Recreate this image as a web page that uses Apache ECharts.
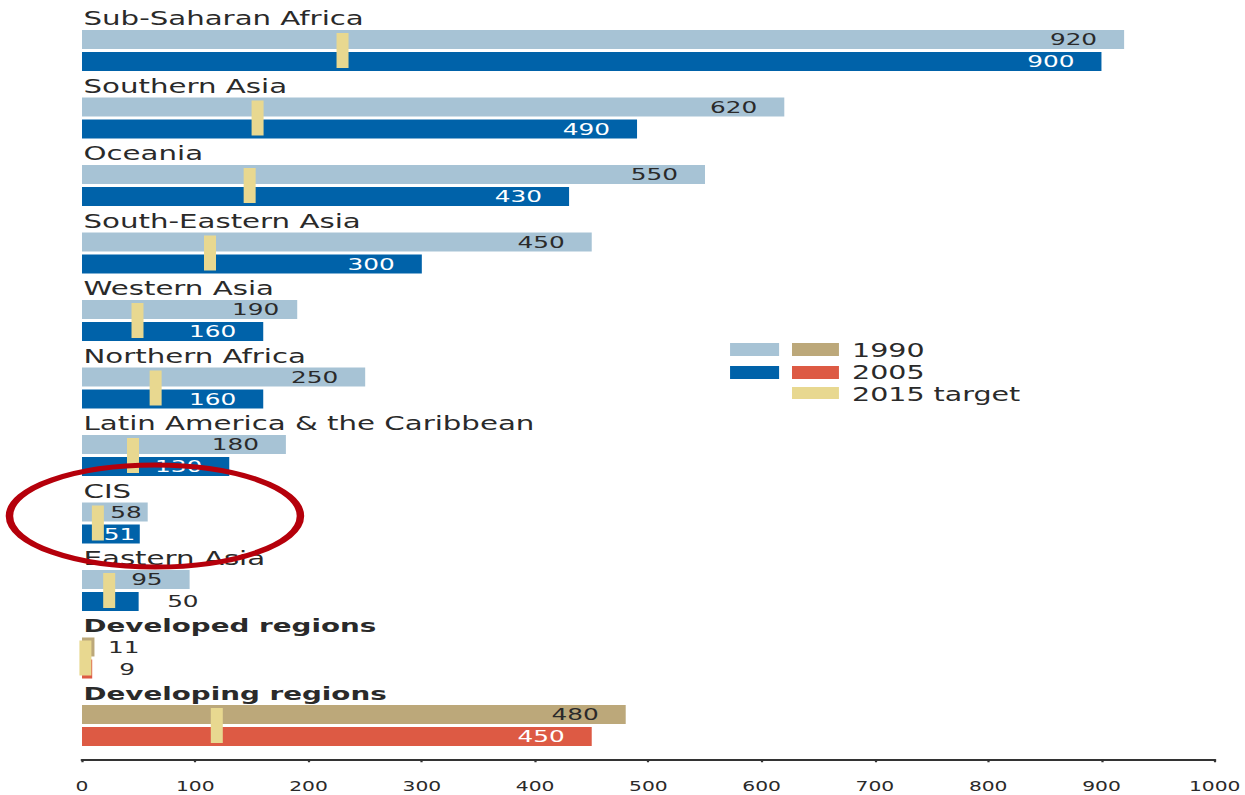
<!DOCTYPE html>
<html lang="en">
<head>
<meta charset="UTF-8">
<title>Maternal mortality ratio</title>
<script src="https://cdn.jsdelivr.net/npm/echarts@6/dist/echarts.min.js"></script>
<style>
  html, body { margin: 0; padding: 0; background: #fff; overflow: hidden; }
  /* the source picture is stretched sideways, so draw narrow and scale */
  #main { width: 830px; height: 795px; transform: scaleX(1.5); transform-origin: 0 0; }
</style>
</head>
<body>
<div id="main"></div>
<script type="text/javascript">
var regions = ['Sub-Saharan Africa', 'Southern Asia', 'Oceania', 'South-Eastern Asia', 'Western Asia',
    'Northern Africa', 'Latin America & the Caribbean', 'CIS', 'Eastern Asia',
    'Developed regions', 'Developing regions'];
var aggregates = ['Developed regions', 'Developing regions'];
var mmr1990 = [920, 620, 550, 450, 190, 250, 180, 58, 95, 11, 480];
var mmr2005 = [900, 490, 430, 300, 160, 160, 130, 51, 50, 9, 450];
var target2015 = [230, 155, 148, 113, 49, 65, 45, 14, 24, 3, 119];
var xMin = 0, xMax = 1000, xStep = 100;

var c1990 = '#a7c3d5', c2005 = '#0062a9';
var c1990agg = '#bca87a', c2005agg = '#dd5a44';
var cTarget = '#e8d890';
var txt = '#2a2a2a';
var font = 'DejaVu Sans';

// label tweaks for the short bars
var lab1990 = {
    'Western Asia': {distance: 12},
    'CIS': {distance: 4},
    'Developed regions': {position: 'right', distance: 9}
};
var lab2005 = {
    'CIS': {distance: 3},
    'Eastern Asia': {position: 'right', distance: 19, color: txt},
    'Developed regions': {position: 'right', distance: 18, color: txt}
};

function barData(values, col, colAgg, tweaks) {
    return values.map(function (v, i) {
        var name = regions[i];
        var item = {value: v, itemStyle: {color: aggregates.indexOf(name) >= 0 ? colAgg : col}};
        if (tweaks[name]) item.label = tweaks[name];
        return item;
    });
}

var myChart = echarts.init(document.getElementById('main'), null, {renderer: 'svg'});

var option = {
    animation: false,
    grid: {left: 54.67, right: 20, top: 16.75, bottom: 35.75},
    xAxis: {
        type: 'value',
        min: xMin, max: xMax, interval: xStep,
        splitLine: {show: false},
        axisLine: {show: true, lineStyle: {color: '#333', width: 2}},
        axisTick: {show: true, length: 3, lineStyle: {color: '#333', width: 1.5}},
        axisLabel: {margin: 20, fontFamily: font, fontSize: 13.5, color: txt,
            formatter: function (v) { return String(v); }}
    },
    yAxis: {
        type: 'category',
        inverse: true,
        data: regions,
        axisLine: {show: false},
        axisTick: {show: false},
        axisLabel: {
            inside: true,
            interval: 0,
            margin: 1,
            align: 'left',
            verticalAlign: 'middle',
            padding: [0, 0, 64, 0],
            formatter: function (v) {
                return aggregates.indexOf(v) >= 0 ? '{b|' + v + '}' : '{n|' + v + '}';
            },
            rich: {
                n: {fontFamily: font, fontSize: 19.5, color: txt},
                b: {fontFamily: font, fontSize: 18.5, fontWeight: 'bold', color: txt}
            }
        }
    },
    series: [
        {
            name: '1990',
            type: 'bar',
            barWidth: 19,
            barGap: '16%',
            data: barData(mmr1990, c1990, c1990agg, lab1990),
            label: {show: true, position: 'insideRight', distance: 18,
                fontFamily: font, fontSize: 16.5, color: txt}
        },
        {
            name: '2005',
            type: 'bar',
            barWidth: 19,
            barGap: '16%',
            data: barData(mmr2005, c2005, c2005agg, lab2005),
            label: {show: true, position: 'insideRight', distance: 18,
                fontFamily: font, fontSize: 16.5, color: '#fff'}
        },
        {
            name: '2015 target',
            type: 'scatter',
            symbol: 'rect',
            symbolSize: [8, 35],
            itemStyle: {color: cTarget, opacity: 1},
            data: target2015.map(function (v, i) { return [v, regions[i]]; }),
            z: 3
        }
    ],
    graphic: [
        {type: 'rect', shape: {x: 486.7, y: 343, width: 32.7, height: 13}, style: {fill: c1990}},
        {type: 'rect', shape: {x: 528, y: 343, width: 31.3, height: 13}, style: {fill: c1990agg}},
        {type: 'rect', shape: {x: 486.7, y: 366, width: 32.7, height: 13}, style: {fill: c2005}},
        {type: 'rect', shape: {x: 528, y: 366, width: 31.3, height: 13}, style: {fill: c2005agg}},
        {type: 'rect', shape: {x: 528, y: 387, width: 31.3, height: 12}, style: {fill: cTarget}},
        {type: 'text', x: 568, y: 351, style: {text: '1990', font: '19px "DejaVu Sans"', fill: txt, verticalAlign: 'middle'}},
        {type: 'text', x: 568, y: 373, style: {text: '2005', font: '19px "DejaVu Sans"', fill: txt, verticalAlign: 'middle'}},
        {type: 'text', x: 568, y: 395, style: {text: '2015 target', font: '19px "DejaVu Sans"', fill: txt, verticalAlign: 'middle'}},
        // highlight round CIS
        {type: 'ellipse', z: 100, shape: {cx: 103.3, cy: 516, rx: 97, ry: 51},
            style: {fill: 'none', stroke: '#b5000b', lineWidth: 5}}
    ]
};

myChart.setOption(option);
</script>
</body>
</html>
